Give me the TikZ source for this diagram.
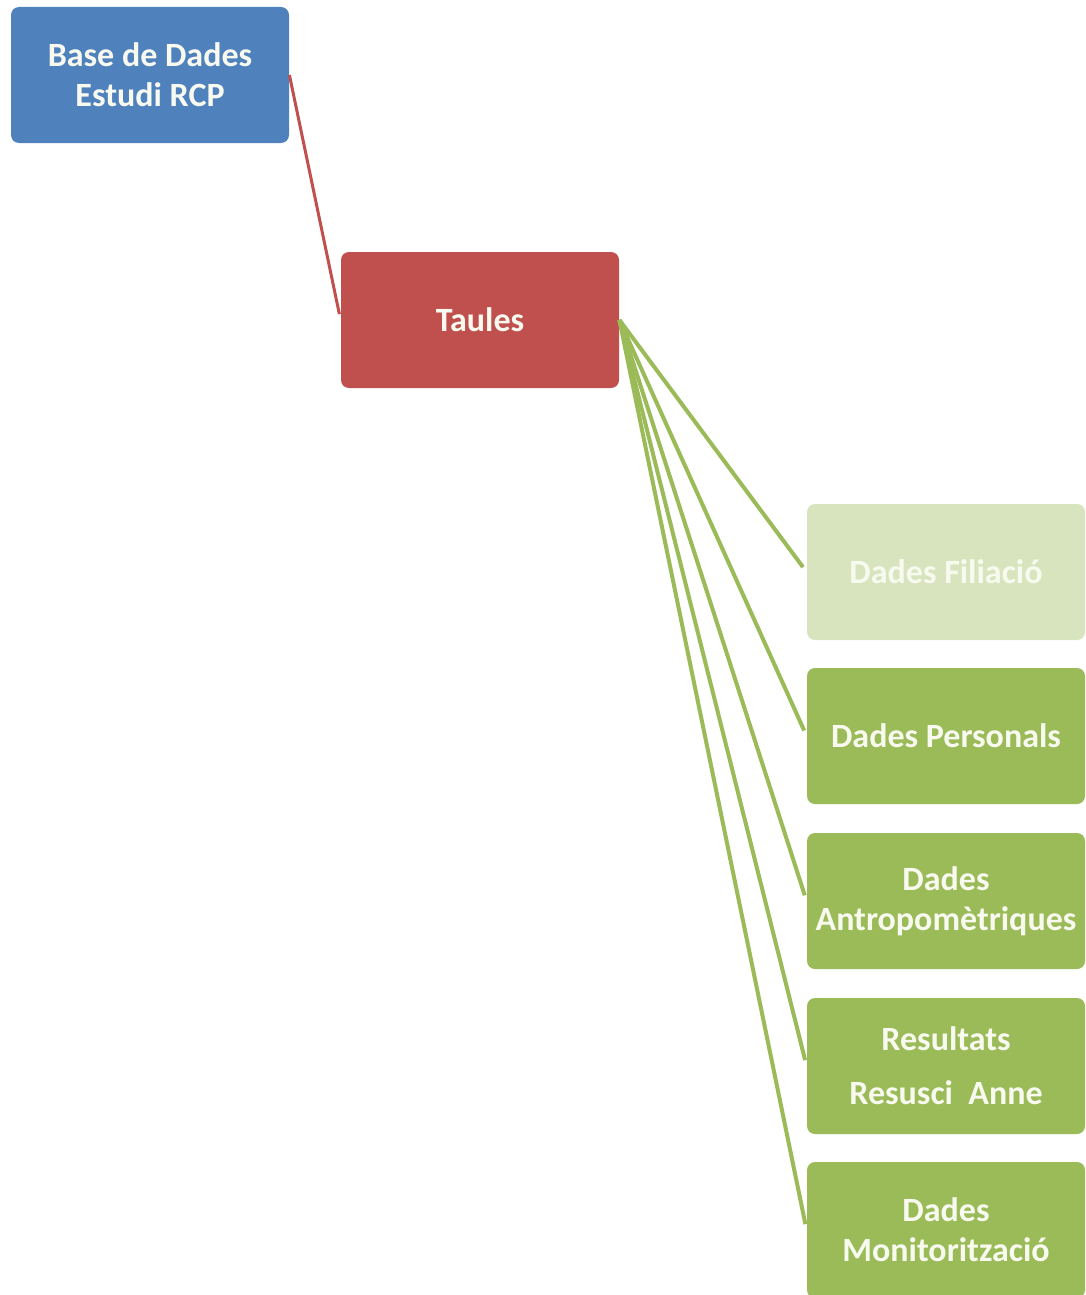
\documentclass[tikz,border=0pt]{standalone}
\usepackage{fontspec}
\setmainfont{Carlito}
\usepackage{xcolor}
\definecolor{Office Blue}{HTML}{4F81BD}
\definecolor{Office Red}{HTML}{C0504D}
\definecolor{Office Green}{HTML}{9BBB59}
\definecolor{Pale Green}{HTML}{D7E4BD}
\definecolor{Cream}{HTML}{F8FAF0}
\colorlet{cBlue}{Office Blue}
\colorlet{cRed}{Office Red}
\colorlet{cGreen}{Office Green}
\colorlet{cPale}{Pale Green}
\usetikzlibrary{positioning}
\tikzset{
	x=.5pt,
	y=-.5pt,
	font = \fontsize{17}{20}\selectfont\bfseries,
	box/.style={
		rounded corners=4pt,
		minimum width=139pt,
		minimum height=68pt,
		align=center,
		text=Cream,
		inner sep=1pt
	},
	link/.style={
		line width=2pt,
		shorten >=3pt
	}
}

\begin{document}
\begin{tikzpicture}
		\useasboundingbox (0,0) rectangle (1086,1295);
		\clip (0,0) rectangle (1086,1295);

		\node[box, fill=cBlue] at (150,75) (base) {Base de Dades\\Estudi RCP};
		\node[box, fill=cRed] at (480,320) (taules) {Taules};

		\node[box, fill=cPale] at (946,572) (filiacio) {Dades Filiació};
		\node[box, fill=cGreen] at (946,736) (personals) {Dades Personals};
		\node[box, fill=cGreen] at (946,901) (antropo) {Dades\\Antropomètriques};
		\node[box, fill=cGreen] at (946,1066) (resultats) {Resultats\\[7pt]Resusci~ Anne};
		\node[box, fill=cGreen] at (946,1230) (monitor) {Dades\\Monitorització};

		\draw[link, cRed, line width=1.5pt] (base.east) -- (taules.west);
		\draw[link, cGreen] (taules.east) -- (filiacio.west);
		\draw[link, cGreen] (taules.east) -- (personals.west);
		\draw[link, cGreen] (taules.east) -- (antropo.west);
		\draw[link, cGreen] (taules.east) -- (resultats.west);
		\draw[link, cGreen] (taules.east) -- (monitor.west);
	\end{tikzpicture}
\end{document}
